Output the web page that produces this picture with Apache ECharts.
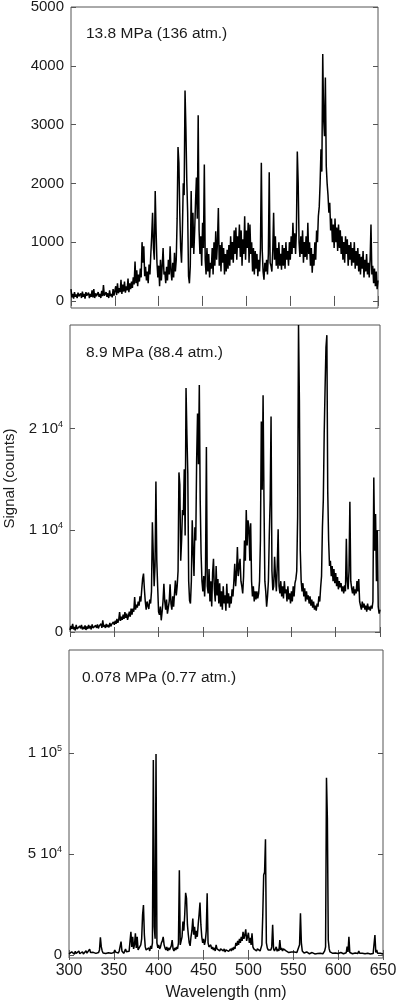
<!DOCTYPE html>
<html>
<head>
<meta charset="utf-8">
<script src="https://cdn.jsdelivr.net/npm/echarts@6/dist/echarts.min.js"></script>
<style>
html,body{margin:0;padding:0;background:#fff;}
#chart{width:396px;height:1000px;}
</style>
</head>
<body>
<div id="chart"></div>
<script>
// Wavelength grid: 300..650 nm, 1 nm sampling
const wlStart = 300;
const wlStep = 1;

// Panel labels
const panelLabels = ["13.8 MPa (136 atm.)", "8.9 MPa (88.4 atm.)", "0.078 MPa (0.77 atm.)"];

// Tick label values
const xTicks = [300, 350, 400, 450, 500, 550, 600, 650];
const yTicks1 = [0, 1000, 2000, 3000, 4000, 5000];
const yTicks2 = [0, 10000, 20000];
const yTicks3 = [0, 50000, 100000];

// Panel 1: 13.8 MPa signal (counts), 300..650 nm
const signal1 = [
200,60,120,40,150,70,110,50,140,80,
60,130,50,160,70,120,40,150,90,60,
140,50,120,70,180,60,200,50,130,80,
60,150,70,120,50,170,80,270,90,60,
150,70,130,50,180,80,120,60,200,90,
120,250,100,300,130,220,150,360,120,280,
160,330,140,250,180,380,150,300,200,330,
220,400,280,670,300,520,250,450,330,550,
400,1000,650,930,420,580,350,500,300,620,
450,800,1100,1500,900,700,1870,1200,650,400,
600,250,700,350,600,900,450,500,300,580,
350,700,450,930,500,350,650,400,820,500,
700,1400,2620,2350,1500,900,650,1200,2000,1800,
3580,2930,2050,1500,420,300,600,1870,900,1500,
800,1200,1700,2100,1400,3160,1210,800,1100,600,
1330,900,2320,700,450,900,500,800,400,650,
550,900,450,1000,600,1185,700,1000,1580,600,
950,500,1000,650,900,450,800,500,870,550,
950,600,1100,700,1000,650,1200,800,1250,700,
1100,900,1300,750,1200,600,1050,800,1440,700,
1200,900,1330,650,1300,800,1000,500,900,450,
850,550,800,420,700,500,900,2350,870,500,
360,650,500,700,450,800,2190,650,600,500,
850,1500,700,1100,600,900,550,1000,600,800,
530,950,600,900,550,1000,700,850,600,1000,
700,1100,800,1330,900,1150,800,1200,2540,2010,
1000,750,1100,800,1200,650,1000,750,1100,700,
1330,800,1000,600,900,480,800,600,1000,700,
1200,1000,1440,1600,2000,2580,2200,4200,3100,2800,
3800,2300,2000,1800,1500,1670,1200,1400,1000,1300,
900,1400,1000,1250,850,1300,900,1200,800,1100,
700,1000,650,1100,800,1050,600,950,700,1000,
600,900,650,1000,550,850,600,900,500,800,
450,750,550,850,400,700,500,800,450,650,
400,700,1300,450,600,300,550,250,500,200,
350
];

// Panel 2: 8.9 MPa signal (counts)
const signal2 = [
200,600,300,800,250,500,150,700,300,450,
200,600,350,700,250,500,300,650,200,550,
300,700,350,600,250,750,400,550,300,650,
400,750,350,600,450,800,400,1150,500,700,
400,800,500,700,450,900,550,750,600,1000,
700,1100,800,1300,900,1200,1960,1100,1500,1200,
1700,1300,1960,1400,1800,1200,1600,2000,1500,2300,
1700,2300,2000,3440,2200,2700,2400,3000,2600,3500,
3000,4200,5250,5740,4200,3000,2200,3000,2600,2260,
3200,2800,4000,10800,7700,4500,6500,14800,7000,4400,
2000,1700,2500,1150,2000,3000,4750,3000,2200,3200,
1800,2400,3000,4700,2800,2200,3500,2500,3800,5070,
3600,4500,6000,15700,14500,7000,9000,12000,11500,16000,
9500,24000,19400,15600,5000,3100,2800,5000,10980,8000,
5500,10300,9000,17000,21500,16500,24300,13000,7700,5000,
4000,5500,3500,6000,18200,4500,3800,6200,3000,5000,
2500,5800,7200,4200,3000,6500,3600,5200,2800,4800,
2500,4000,2200,4500,2800,3600,2100,4750,2800,3800,
2400,3500,2800,4200,3500,5000,6700,4500,5800,8360,
5500,6500,7200,5000,4500,3800,5500,9000,7000,12000,
8500,10980,10300,7000,10700,5000,3500,4500,3000,4000,
3200,4000,3300,3800,5000,9000,20700,14000,23300,13000,
5000,4000,2480,3500,5000,9500,13000,21200,6000,4100,
4500,7400,5500,4000,6500,10100,4500,3800,5000,3500,
4500,3300,5000,3800,4200,3000,4500,3200,3800,2800,
4000,3000,4500,3500,4800,5200,6000,11300,30200,22800,
8000,5000,4000,4800,3500,4300,3000,4000,3200,3600,
2800,3500,2600,3200,2400,3000,2200,2600,2100,2800,
2500,3500,3000,4400,5500,10300,13000,19500,24000,28000,
29200,13800,9000,6500,7000,5500,6500,5000,6200,4800,
5800,4500,5400,4200,5000,4400,4800,4000,4500,3800,
4600,4000,9180,5000,4200,6000,12800,5000,4300,3800,
4500,3600,4200,3800,5000,4000,5200,3000,2600,2200,
3000,2400,2800,2200,2600,2000,2800,2200,2500,2100,
2600,2300,3000,15200,8000,11600,5000,10000,2500,1800,
2200
];

// Panel 3: 0.078 MPa signal (counts)
const signal3 = [
500,1200,800,1500,600,1000,400,1800,700,1400,
900,2000,600,1200,800,1600,500,1100,700,2100,
900,1500,600,2900,1200,1800,700,1300,500,1000,
800,1500,600,1200,2500,8700,4000,2000,1000,600,
1200,700,1500,900,1100,600,1300,800,1000,500,
1200,2500,1400,800,1500,1000,2000,1200,6600,2000,
1500,800,1800,3000,1600,2500,1200,1800,2500,11500,
4000,9000,3000,5000,10700,3500,9000,2500,1800,3000,
5000,8000,19800,24750,10000,4000,2500,3000,2000,3500,
2000,4500,3000,6000,96500,14000,8000,99500,6000,3500,
5000,3000,4000,6000,7000,9000,5000,3500,2500,4000,
2000,3500,2500,3000,4500,7400,3000,2000,3500,2500,
4000,3000,6000,42000,5000,7000,9000,16500,12000,20000,
30800,28000,15000,10000,6000,4500,9000,12000,18000,10000,
14000,8000,12000,9000,15000,20000,26000,15000,9000,6000,
8000,5000,7000,12000,30500,6000,4000,3500,5000,3000,
4000,2500,3500,2000,5000,3000,2500,3500,2000,3000,
2500,3500,2000,3000,1500,2500,2000,3000,1800,2500,
3000,2000,3500,2500,4000,3000,6000,4500,7000,5000,
8000,6000,9000,7000,11500,8000,10000,12700,7000,9000,
11000,6000,8500,5000,10700,4000,3000,2500,3500,2000,
3000,2500,3500,2000,2500,5000,20000,39600,41000,57300,
6000,3500,2500,3000,2000,2500,4000,14900,3000,2000,
2500,4000,1800,3000,2000,7400,2500,3500,2000,3000,
2500,3500,2000,1500,2500,1200,2000,1000,1500,800,
1200,1500,1000,2000,1200,800,1500,5000,20600,6000,
2000,1500,1000,1200,800,1500,1000,1200,600,1000,
800,1200,600,1000,500,800,400,700,500,600,
800,500,1000,600,1200,2000,4000,87800,67700,7400,
3000,1500,1000,1500,800,1200,600,1000,800,1300,
700,1000,600,1200,800,1500,600,900,700,1100,
4100,1500,9000,1200,800,1000,600,900,700,1000,
600,1200,700,2000,800,1000,600,900,500,800,
600,900,500,800,700,1000,500,800,400,700,
600,9900,1200,2500,800,1000,500,800,600,700,
500
];

function pairs(arr) { return arr.map((v, i) => [wlStart + i * wlStep, v]); }

const FONT = '"Liberation Sans", Arial, Helvetica, sans-serif';
const TXT = '#1a1a1a';
const FRAME = '#555';

const grids = [
  {left: 71, right: 18, top: 7, height: 301},
  {left: 70, right: 16, top: 325, height: 307},
  {left: 69, right: 13, top: 650, height: 308}
];
const yRanges = [[-120, 5000], [0, 30200], [-1500, 151000]];
const yTickSets = [yTicks1, yTicks2, yTicks3];

function sci(v) {
  if (v === 0) return '{b|0}';
  const e = Math.floor(Math.log10(v));
  const m = Math.round(v / Math.pow(10, e));
  return '{b|' + m + ' 10}{s|' + e + '}';
}
const yFormatters = [v => '{b|' + v + '}', sci, sci];

const xAxes = [], yAxes = [], series = [];
grids.forEach((g, i) => {
  const last = i === 2;
  xAxes.push({
    type: 'value', gridIndex: i, min: 300, max: 650, position: 'bottom',
    axisLine: {show: false},
    axisTick: {show: true, inside: true, length: 5, customValues: xTicks, lineStyle: {color: FRAME, width: 1}},
    axisLabel: {show: last, customValues: xTicks, fontFamily: FONT, fontSize: 16, color: TXT, margin: 5, hideOverlap: false},
    splitLine: {show: false},
    name: last ? 'Wavelength (nm)' : '', nameLocation: 'middle', nameGap: 27, nameMoveOverlap: false,
    nameTextStyle: {fontFamily: FONT, fontSize: 16, color: TXT}
  });
  xAxes.push({
    type: 'value', gridIndex: i, min: 300, max: 650, position: 'top',
    axisLine: {show: false},
    axisTick: {show: true, inside: true, length: 5, customValues: xTicks, lineStyle: {color: FRAME, width: 1}},
    axisLabel: {show: false}, splitLine: {show: false}
  });
  const rich = {
    b: {fontFamily: FONT, fontSize: 15, color: TXT, lineHeight: 18},
    s: {fontFamily: FONT, fontSize: 9, color: TXT, verticalAlign: 'top', lineHeight: 10, padding: [0, 0, 6, 0]}
  };
  yAxes.push({
    type: 'value', gridIndex: i, min: yRanges[i][0], max: yRanges[i][1], position: 'left',
    axisLine: {show: false},
    axisTick: {show: true, inside: true, length: 5, customValues: yTickSets[i], lineStyle: {color: FRAME, width: 1}},
    axisLabel: {show: true, customValues: yTickSets[i], formatter: yFormatters[i], rich: rich, margin: 7, hideOverlap: false},
    splitLine: {show: false},
    name: i === 1 ? 'Signal (counts)' : '', nameLocation: 'middle', nameGap: 53, nameMoveOverlap: false,
    nameTextStyle: {fontFamily: FONT, fontSize: 15, color: TXT}
  });
  yAxes.push({
    type: 'value', gridIndex: i, min: yRanges[i][0], max: yRanges[i][1], position: 'right',
    axisLine: {show: false},
    axisTick: {show: true, inside: true, length: 5, customValues: yTickSets[i], lineStyle: {color: FRAME, width: 1}},
    axisLabel: {show: false}, splitLine: {show: false}
  });
});

const signals = [signal1, signal2, signal3];
signals.forEach((s, i) => {
  series.push({
    type: 'line', xAxisIndex: i * 2, yAxisIndex: i * 2, data: pairs(s),
    showSymbol: false, symbol: 'none', clip: true,
    lineStyle: {color: '#000', width: 1.5}, animation: false
  });
});

const labelPos = [{left: 86, top: 26}, {left: 86, top: 345}, {left: 82, top: 670}];
const titles = panelLabels.map((t, i) => ({
  text: t, left: labelPos[i].left, top: labelPos[i].top, padding: 0,
  textStyle: {fontFamily: FONT, fontSize: 15.5, fontWeight: 'normal', color: TXT}
}));

const chart = echarts.init(document.getElementById('chart'), null, {renderer: 'canvas'});
chart.setOption({
  animation: false,
  backgroundColor: '#fff',
  title: titles,
  grid: grids.map(g => Object.assign({show: true, borderColor: FRAME, borderWidth: 1, containLabel: false, outerBoundsMode: 'none'}, g)),
  xAxis: xAxes,
  yAxis: yAxes,
  series: series
});
</script>
</body>
</html>
